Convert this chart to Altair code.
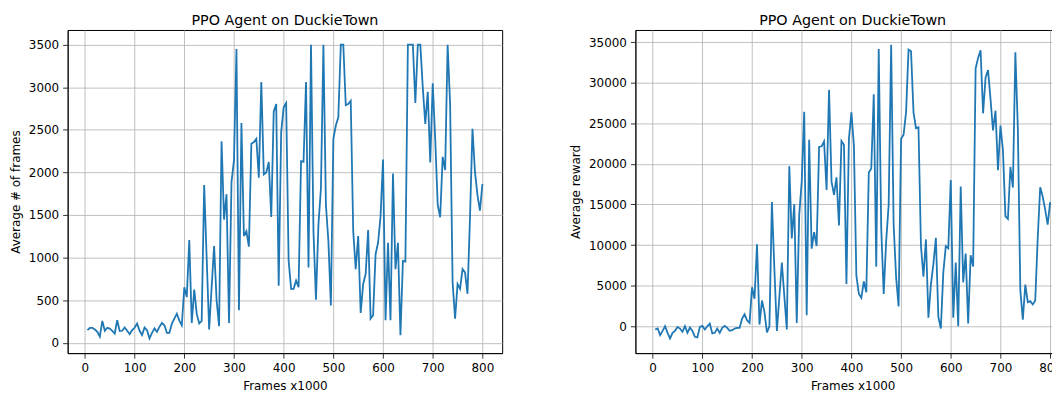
import altair as alt
import pandas as pd

frames = [5, 10, 15, 20, 25, 30, 35, 40, 45, 50, 55, 60, 65, 70, 75, 80, 85, 90, 95, 100,
          105, 110, 115, 120, 125, 130, 135, 140, 145, 150, 155, 160, 165, 170, 175, 180, 185, 190, 195, 200,
          205, 210, 215, 220, 225, 230, 235, 240, 245, 250, 255, 260, 265, 270, 275, 280, 285, 290, 295, 300,
          305, 310, 315, 320, 325, 330, 335, 340, 345, 350, 355, 360, 365, 370, 375, 380, 385, 390, 395, 400,
          405, 410, 415, 420, 425, 430, 435, 440, 445, 450, 455, 460, 465, 470, 475, 480, 485, 490, 495, 500,
          505, 510, 515, 520, 525, 530, 535, 540, 545, 550, 555, 560, 565, 570, 575, 580, 585, 590, 595, 600,
          605, 610, 615, 620, 625, 630, 635, 640, 645, 650, 655, 660, 665, 670, 675, 680, 685, 690, 695, 700,
          705, 710, 715, 720, 725, 730, 735, 740, 745, 750, 755, 760, 765, 770, 775, 780, 785, 790, 795, 800]

avg_frames = [147, 175, 175, 155, 128, 70, 256, 140, 175, 165, 140, 108, 264, 136, 140, 178, 140, 100, 147, 175,
              225, 140, 89, 178, 147, 50, 116, 167, 128, 186, 232, 205, 116, 116, 225, 283, 341, 260, 205, 651,
              535, 1205, 232, 624, 341, 225, 256, 1853, 1000, 155, 650, 1136, 500, 194, 2364, 1446, 1744, 232, 1884, 2143,
              3450, 380, 2581, 1252, 1310, 1128, 2337, 2356, 2395, 1938, 3062, 1977, 2000, 2124, 1477, 2713, 2802, 670, 2473, 2764,
              2814, 961, 632, 632, 729, 651, 2132, 2124, 3062, 884, 3500, 1300, 504, 1388, 1814, 3500, 1620, 1194, 438, 2395,
              2550, 2647, 3500, 3500, 2790, 2802, 2841, 1310, 864, 1252, 349, 690, 806, 1322, 283, 322, 1039, 1174, 1484, 2151,
              264, 1174, 264, 1988, 864, 1174, 89, 961, 953, 3500, 3500, 3500, 2814, 3500, 3500, 2996, 2570, 2946, 2116, 3046,
              2395, 1620, 1473, 2182, 2027, 3500, 2802, 709, 283, 690, 632, 864, 825, 574, 1465, 2512, 2008, 1736, 1550, 1864]

avg_reward = [-407, -285, -1098, -570, 0, -813, -1504, -813, -569, -81, -285, -691, 0, -813, -163, -569, -1301, -1382, -81, 41,
              -407, 0, 325, -894, -813, -285, -813, -203, 41, -203, -569, -488, -285, -203, -203, 935, 1463, 732, 407, 4797,
              3374, 10081, 203, 3171, 1748, -772, 0, 15285, 7000, -569, 3600, 7845, 3700, -407, 19715, 10813, 15040, 407, 13740, 17805,
              26423, 1341, 22967, 9553, 11585, 9878, 22073, 22154, 22764, 16788, 29105, 17805, 16179, 18333, 12398, 22805, 22357, 5203, 23089, 26341,
              22276, 6219, 3984, 3496, 5528, 4187, 18943, 19431, 28577, 7317, 34146, 12114, 3984, 10488, 14959, 34675, 12520, 6016, 2439, 23089,
              23577, 26341, 34065, 33862, 26341, 24390, 24512, 9878, 6098, 10691, 1057, 5122, 7642, 10894, 1138, -285, 6626, 9878, 9594, 18008,
              1057, 7845, 0, 17195, 5406, 8943, 325, 8740, 7358, 31748, 33049, 33983, 26220, 30610, 31545, 27967, 24106, 26545, 19228, 24716,
              21667, 13537, 13211, 19634, 17073, 33740, 24309, 4390, 813, 5122, 2967, 3089, 2683, 3171, 10894, 17114, 15976, 14350, 12520, 15285]

x_ticks = [0, 100, 200, 300, 400, 500, 600, 700, 800]
left_y_ticks = [0, 500, 1000, 1500, 2000, 2500, 3000, 3500]
right_y_ticks = [0, 5000, 10000, 15000, 20000, 25000, 30000, 35000]

TITLE = "PPO Agent on DuckieTown"
X_TITLE = "Frames x1000"


def panel(values, ytitle, ydomain, yticks):
    df = pd.DataFrame({"frames": frames, "value": values})
    return alt.Chart(df).mark_line(color="#1f77b4", strokeWidth=1.8, clip=True).encode(
        x=alt.X("frames:Q",
                scale=alt.Scale(domain=[-34.75, 839.75], nice=False, zero=False),
                axis=alt.Axis(values=x_ticks, title=X_TITLE, format="d", titlePadding=8)),
        y=alt.Y("value:Q",
                scale=alt.Scale(domain=ydomain, nice=False, zero=False),
                axis=alt.Axis(values=yticks, title=ytitle, format="d", titlePadding=6)),
    ).properties(width=437, height=325, title=TITLE)


left = panel(avg_frames, "Average # of frames", [-122.5, 3672.5], left_y_ticks)
right = panel(avg_reward, "Average reward", [-3313, 36484], right_y_ticks)

chart = alt.hconcat(left, right, spacing=66).properties(
    padding={"left": 0, "top": 3, "right": -19, "bottom": 0}
).configure_view(
    stroke="black", strokeWidth=1
).configure_axis(
    labelFont="DejaVu Sans", labelFontSize=12, labelColor="black",
    titleFont="DejaVu Sans", titleFontSize=12, titleFontWeight="normal", titleColor="black",
    tickColor="black", tickSize=5, tickWidth=0.8,
    domainColor="black", domainWidth=0.8,
    gridColor="#b0b0b0", gridWidth=0.8, gridOpacity=1,
    labelPadding=4, labelFlush=False, labelOverlap=False,
).configure_title(
    font="DejaVu Sans", fontSize=14.4, fontWeight="normal", color="black",
    anchor="middle", offset=2,
)

chart.save("out.html", embed_options={"renderer": "svg", "actions": False})
